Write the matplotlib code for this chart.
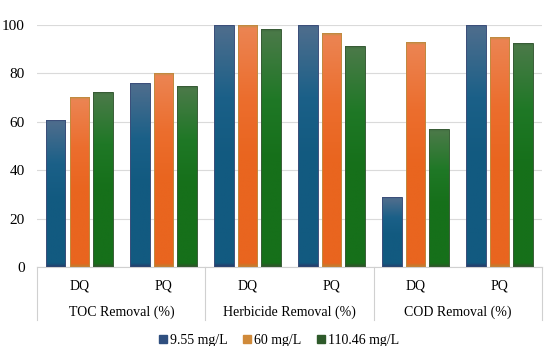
import numpy as np
import matplotlib
matplotlib.use("Agg")
import matplotlib.pyplot as plt
from matplotlib.colors import LinearSegmentedColormap, to_rgb
from matplotlib.lines import Line2D
import matplotlib.transforms as mtransforms

plt.rcParams['font.family'] = ['Liberation Serif', 'DejaVu Serif']

groups = ["TOC Removal (%)", "Herbicide Removal (%)", "COD Removal (%)"]
subcats = ["DQ", "PQ"]
series_names = ["9.55 mg/L", "60 mg/L", "110.46 mg/L"]
s_955 = [61, 76, 100, 100, 29, 100]
s_60 = [70.3, 80.2, 100, 96.8, 92.8, 95.2]
s_110 = [72.3, 74.8, 98.3, 91.4, 57.3, 92.4]
series = [s_955, s_60, s_110]
yticks = [0, 20, 40, 60, 80, 100]

# gradient: (top band, top, upper body, body, bottom band)
grads = [
    ["#47648a", "#4d6d8d", "#1b6088", "#125a80", "#243f6c"],
    ["#c09048", "#eb8452", "#ec6e2e", "#e9651f", "#c47b2e"],
    ["#3f6a3e", "#4a7a48", "#1f7826", "#16701a", "#2d5528"],
]
legend_cols = ["#2f4f7f", "#d08a3a", "#2e5a2a"]
edge_cols = ["#3c4f7a", "#c08a40", "#385c36"]

fig = plt.figure(figsize=(5.5, 3.46), dpi=100)
ax = fig.add_axes([0.0678, 0.2269, 0.917, 0.7009])

n = len(s_955)
x = np.arange(n)
bw = 0.23
step = 0.28
px_per_unit = 0.7009 * 346 / 100.0
band_px = 3.5
for si, vals in enumerate(series):
    c = [np.array(to_rgb(h)) for h in grads[si]]
    for i, v in enumerate(vals):
        xc = x[i] + (si - 1) * step
        bar = ax.bar(xc, v, width=bw, color="none", edgecolor=edge_cols[si], linewidth=0.7, zorder=3)[0]
        hpx = v * px_per_unit
        f = min(band_px / hpx, 0.2)
        stops = [0.0, f, 0.3, 0.55, 1 - f, 1.0]
        cols = [c[0], c[1], c[2], c[3], c[3], c[4]]
        cmap = LinearSegmentedColormap.from_list(f"g{si}_{i}", list(zip(stops, cols)))
        grad = np.linspace(1, 0, 300).reshape(-1, 1)
        im = ax.imshow(grad, aspect="auto", cmap=cmap, origin="lower", vmin=0, vmax=1,
                       extent=[xc - bw / 2, xc + bw / 2, 0, v], zorder=2, interpolation="bilinear")
        im.set_clip_path(bar)

ax.set_xlim(-0.5, n - 0.5)
ax.set_ylim(0, 100)
ax.set_yticks(yticks)
ax.set_yticklabels([str(t) for t in yticks], fontsize=11)
ax.tick_params(axis="y", length=0, pad=9)
ax.grid(axis="y", color="#dadada", linewidth=0.8, zorder=0)
ax.set_axisbelow(True)
for sp in ["top", "right", "left"]:
    ax.spines[sp].set_visible(False)
ax.spines["bottom"].set_color("#d0d0d0")
ax.spines["bottom"].set_linewidth(0.8)

ax.set_xticks(x)
ax.set_xticklabels([subcats[i % 2] for i in range(n)], fontsize=10)
ax.tick_params(axis="x", length=0, pad=8.5)

trans = mtransforms.blended_transform_factory(ax.transData, ax.transAxes)
for g in range(len(groups) + 1):
    xb = g * 2 - 0.5
    ax.plot([xb, xb], [0, -0.215], transform=trans, color="#d0d0d0", linewidth=0.8, clip_on=False)
for g, name in enumerate(groups):
    ax.text(g * 2 + 0.5, -0.186, name, transform=trans, ha="center", va="center", fontsize=10)

handles = [Line2D([], [], marker="s", linestyle="none", markersize=5.5, markerfacecolor=legend_cols[i],
                  markeredgecolor=legend_cols[i]) for i in range(3)]
fig.legend(handles, series_names, loc="center", bbox_to_anchor=(0.505, 0.017), ncol=3, frameon=False,
           fontsize=10, handletextpad=0.0, columnspacing=0.9, handlelength=1.0)

fig.savefig("out.png", dpi=100)
